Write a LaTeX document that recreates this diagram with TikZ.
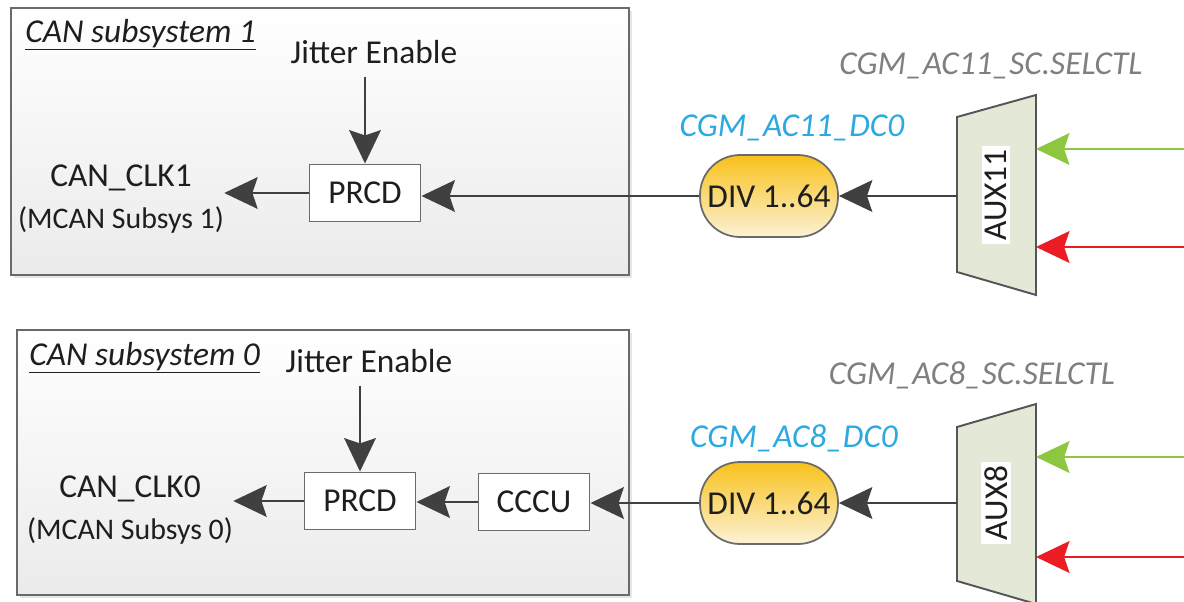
\documentclass[tikz,border=0pt]{standalone}
\usepackage{fontspec}
\setmainfont{Carlito}
\usetikzlibrary{arrows.meta,shadows}

\definecolor{wiregray}{HTML}{404040}
\definecolor{boxgray}{HTML}{6A6A6A}
\definecolor{txtgray}{HTML}{1E1E1E}
\definecolor{cgmblue}{HTML}{2BA9E0}
\definecolor{selgray}{HTML}{7F7F7F}
\definecolor{divtop}{HTML}{F8C11A}
\definecolor{divbot}{HTML}{FCF2D6}
\definecolor{muxfill}{HTML}{E4E8D6}
\definecolor{clkgreen}{HTML}{8DC63F}
\definecolor{clkred}{HTML}{EC1C24}

\begin{document}
\begin{tikzpicture}
            [x=0.02cm, y=-0.02cm,
             font=\fontsize{19}{23}\selectfont, text=txtgray,
             subbox/.style={draw=boxgray, line width=1.1pt, top color=white, bottom color=black!8,
                            drop shadow={opacity=0.2, shadow xshift=1.5pt, shadow yshift=-1.5pt}},
             block/.style={draw=boxgray, line width=1.1pt, fill=white, inner sep=0pt,
                           minimum width=2.22cm, minimum height=1.14cm},
             divider/.style={draw=boxgray, line width=1pt, top color=divtop, bottom color=divbot,
                             rounded corners=0.8cm, inner sep=0pt, minimum width=2.76cm, minimum height=1.64cm},
             mux/.style={draw=boxgray!80!black, line width=1.1pt, fill=muxfill},
             auxlabel/.style={fill=white, rotate=90, inner sep=2pt},
             cgmlabel/.style={text=cgmblue, font=\fontsize{19}{23}\selectfont\itshape},
             sellabel/.style={text=selgray, font=\fontsize{19}{23}\selectfont\itshape},
             wire/.style={-{Stealth[length=19pt, width=18pt, inset=3pt]}, draw=wiregray, line width=1.4pt},
             clkin/.style={-{Stealth[length=19pt, width=18pt, inset=3pt]}, line width=1.6pt}]
            \useasboundingbox (0,0) rectangle (1184,602);

            % CAN subsystem 1
            \draw[subbox] (11,8) rectangle (629,275);
            \node[anchor=base west, inner sep=0pt] (title1) at (25,42) {\underline{\textit{CAN subsystem 1}}};
            \node (jit1) at (374,52) {Jitter Enable};
            \node[block] (prcd1) at (365,193) {PRCD};
            \node[align=center, inner sep=0pt] (clk1) at (121,199)
                {CAN\_CLK1\\[1pt]{\fontsize{17}{20}\selectfont(MCAN Subsys 1)}};

            \node[divider] (div11) at (769,196) {DIV 1..64};
            \node[cgmlabel] (dc11) at (792,128) {CGM\_AC11\_DC0};
            \node[sellabel] (sel11) at (991,66) {CGM\_AC11\_SC.SELCTL};

            \draw[mux] (957,117) -- (1036,95) -- (1036,295) -- (957,272) -- cycle;
            \node[auxlabel] (aux11) at (996,195) {AUX11};
            \coordinate (mux11out) at (957,196);
            \coordinate (mux11g) at (1036,149);
            \coordinate (mux11r) at (1036,247);
            \coordinate (g11src) at (1190,149);
            \coordinate (r11src) at (1190,247);

            \draw[wire, shorten <=4pt] (prcd1 |- jit1.south) -- (prcd1.north);
            \draw[wire] (prcd1.west) -- (prcd1.west -| clk1.east);
            \draw[wire] (div11.west) -- (div11.west -| prcd1.east);
            \draw[wire] (mux11out) -- (div11.east);
            \draw[clkin, draw=clkgreen] (g11src) -- (mux11g);
            \draw[clkin, draw=clkred] (r11src) -- (mux11r);

            % CAN subsystem 0
            \draw[subbox] (17,330) rectangle (629,595);
            \node[anchor=base west, inner sep=0pt] (title0) at (29,365) {\underline{\textit{CAN subsystem 0}}};
            \node (jit0) at (369,361) {Jitter Enable};
            \node[block] (prcd0) at (360,501) {PRCD};
            \node[block] (cccu0) at (534,502) {CCCU};
            \node[align=center, inner sep=0pt] (clk0) at (130,510)
                {CAN\_CLK0\\[1pt]{\fontsize{17}{20}\selectfont(MCAN Subsys 0)}};

            \node[divider] (div8) at (769,503) {DIV 1..64};
            \node[cgmlabel] (dc8) at (794,438) {CGM\_AC8\_DC0};
            \node[sellabel] (sel8) at (972,375) {CGM\_AC8\_SC.SELCTL};

            \draw[mux] (957,427) -- (1036,404) -- (1036,604) -- (957,581) -- cycle;
            \node[auxlabel] (aux8) at (996,503) {AUX8};
            \coordinate (mux8out) at (957,503);
            \coordinate (mux8g) at (1036,457);
            \coordinate (mux8r) at (1036,557);
            \coordinate (g8src) at (1190,457);
            \coordinate (r8src) at (1190,557);

            \draw[wire, shorten <=4pt] (prcd0 |- jit0.south) -- (prcd0.north);
            \draw[wire] (prcd0.west) -- (prcd0.west -| clk0.east);
            \draw[wire] (cccu0.west) -- (cccu0.west -| prcd0.east);
            \draw[wire] (div8.west) -- (div8.west -| cccu0.east);
            \draw[wire] (mux8out) -- (div8.east);
            \draw[clkin, draw=clkgreen] (g8src) -- (mux8g);
            \draw[clkin, draw=clkred] (r8src) -- (mux8r);
        \end{tikzpicture}
\end{document}
